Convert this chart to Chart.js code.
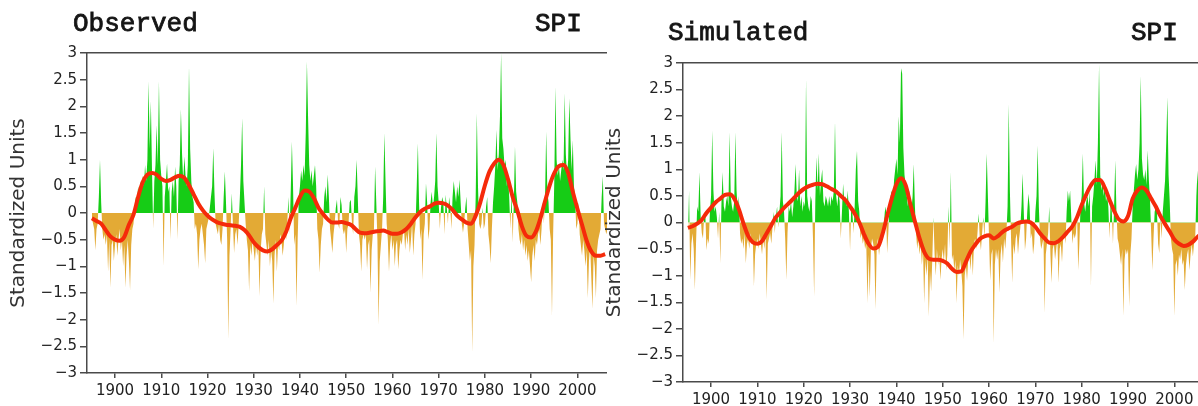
<!DOCTYPE html>
<html>
<head>
<meta charset="utf-8">
<script src="https://cdn.jsdelivr.net/npm/chart.js@4.4.1/dist/chart.umd.min.js"></script>
<style>
    html, body { margin: 0; padding: 0; background: #fff; overflow: hidden; }
    body { width: 1198px; height: 406px; position: relative; }
    .panel { position: absolute; top: 0; }
    .title { position: absolute; font-family: "Liberation Mono", monospace; font-weight: normal;
             font-size: 26px; line-height: 26px; color: #151515; white-space: nowrap;
             -webkit-text-stroke: 0.8px #151515; }
</style>
</head>
<body>
<div class="panel" style="left:0px;width:607px;height:406px;"><canvas id="obsChart" width="607" height="406"></canvas></div>
<div class="panel" style="left:596px;width:608px;height:406px;"><canvas id="simChart" width="608" height="406"></canvas></div>
<div class="title" style="left:73px;top:11px;">Observed</div>
<div class="title" style="left:535px;top:11px;">SPI</div>
<div class="title" style="left:668px;top:20px;">Simulated</div>
<div class="title" style="left:1131px;top:20px;">SPI</div>

<script>
// Axis ticks shared by both panels.
const xTicks = [1900, 1910, 1920, 1930, 1940, 1950, 1960, 1970, 1980, 1990, 2000];
const yTicks = [-3, -2.5, -2, -1.5, -1, -0.5, 0, 0.5, 1, 1.5, 2, 2.5, 3];

// SPI values are read every quarter of a year, starting in 1895.
const spiStart = 1895;
const spiStep = 0.25;

// The smoothed curve is read once a year, starting in 1895.
const trendStart = 1895;

const obsSpi = [
    -0.1, -0.2, -0.3, -0.7,
    -0.3, -0.2, 0.3, 1.0,
    0.2, -0.3, -0.5, -0.4,
    -0.6, -0.4, -1.1, -0.5,
    -1.4, -0.6, -0.5, -0.9,
    -0.6, -0.4, -0.8, -0.5,
    -0.3, -0.7, -0.5, -1.0,
    -0.6, -1.4, -0.8, -0.5,
    -0.9, -1.45, -0.6, -0.3,
    -0.2, 0.1, 0.3, 0.2,
    0.5, 0.3, 0.6, 0.4,
    0.7, 0.5, 0.9, 0.6,
    1.0, 2.47, 1.2, 2.1,
    0.8, -0.3, 0.6, 0.9,
    1.65, 0.9, 2.47, 1.0,
    0.7, 0.5, -1.0, 0.3,
    0.6, 0.93, 0.4, 0.5,
    -0.5, 0.4, 0.6, 0.3,
    0.87, 0.5, -0.5, 0.6,
    0.9, 1.95, 1.1, 0.6,
    1.06, 0.7, 0.5, 0.9,
    2.75, 1.2, 0.6, 0.3,
    0.2, -0.3, -0.2, -0.4,
    -1.06, -0.5, -0.3, -0.2,
    -0.4, -0.6, -0.94, -0.3,
    -0.2, -0.1, 0.1, 0.3,
    0.5, 1.22, 0.4, -0.2,
    -0.3, -0.4, -0.2, -0.5,
    -0.6, -0.3, 0.3, 0.78,
    0.2, -0.5, -2.37, -0.8,
    -0.3, 0.37, -0.2, -0.75,
    -0.4, -0.3, -0.6, -0.2,
    0.3, 0.9, 1.78, 0.6,
    0.2, -0.2, -0.5, -0.7,
    -1.47, -0.6, -0.8, -0.5,
    -0.7, -0.9, -0.6, -0.8,
    -0.6, -1.56, -0.7, -0.4,
    -0.3, 0.5, -0.4, -0.6,
    -0.8, -0.5, -1.0, -0.7,
    -0.9, -1.7, -0.8, -0.5,
    -1.1, -0.6, -0.7, -0.4,
    -0.5, -0.8, -0.6, -0.3,
    -0.5, -0.2, 0.3, -0.4,
    0.4, 1.34, 0.5, -0.6,
    -0.4, -1.75, -0.5, 0.3,
    0.5, 0.8, 0.6, 0.9,
    0.7, 1.5, 2.84, 1.8,
    0.9, 0.6, 0.8, 0.5,
    0.7, 0.9, 0.5, -0.3,
    -0.5, -1.12, -0.6, -0.3,
    -0.2, 0.3, 0.5, 0.2,
    0.72, 0.3, -0.3, -0.5,
    -0.75, -0.4, -0.2, 0.1,
    0.25, -0.2, -0.3, 0.3,
    0.15, -0.3, -0.4, -0.3,
    -0.75, -0.3, -0.2, 0.2,
    0.25, -0.2, -0.4, 0.3,
    0.5, 1.0, 0.3, -0.4,
    -0.6, -1.1, -0.5, -0.4,
    -0.5, -0.4, -1.05, -0.6,
    -0.5, -1.5, -0.7, -0.4,
    -0.3, 0.87, 0.2, -0.5,
    -2.1, -0.9, -0.6, -0.3,
    0.3, 1.5, 0.6, -0.2,
    -0.5, -1.1, -0.6, -0.4,
    -0.7, -0.5, -1.0, -0.6,
    -0.5, -1.06, -0.7, -0.5,
    -0.6, -0.4, -0.3, -0.7,
    -0.4, -0.6, -0.3, -0.75,
    -0.5, -0.2, -0.8, -0.4,
    -0.2, 0.5, 1.31, 0.2,
    -0.5, -0.3, -1.25, -0.4,
    -0.2, 0.56, 0.2, -0.5,
    -0.3, 0.2, 0.4, 0.1,
    0.3, 0.6, 1.5, 0.5,
    0.2, -0.3, 0.1, 0.3,
    0.2, -0.4, 0.34, 0.1,
    -0.2, 0.3, 0.1, -0.3,
    0.3, 0.6, 0.4, 0.2,
    0.5, 0.3, 0.63, 0.2,
    -0.2, -0.37, -0.2, 0.1,
    0.31, -0.3, -0.6, -0.9,
    -0.7, -2.62, -1.0, -0.6,
    0.3, 1.87, 0.5, -0.2,
    -0.3, -0.2, 0.1, -0.3,
    -0.2, 0.12, 0.3, -0.4,
    -0.6, -0.94, -0.3, 0.2,
    0.5, 0.9, 1.56, 0.8,
    1.1, 1.8, 3.0, 1.4,
    1.2, 0.87, 1.0, 0.5,
    0.7, 0.3, -0.3, 0.4,
    -0.56, 0.2, 1.25, 0.4,
    0.2, -0.3, -0.5, -0.6,
    -0.4, -0.7, -0.5, -0.8,
    -0.6, -0.9, -0.7, -1.0,
    -1.3, -0.8, -0.6, -0.9,
    -0.5, -0.6, -0.4, -0.3,
    -0.6, -0.3, 0.2, -0.2,
    0.3, 1.53, 0.4, 0.2,
    -0.3, -0.5, -1.94, -0.4,
    0.6, 2.37, 1.0, 0.7,
    0.9, 0.6, 0.8, 1.0,
    0.8, 2.25, 1.1, 0.7,
    1.0, 2.15, 1.4, 0.8,
    1.37, 0.5, 0.3, -0.3,
    -0.2, 0.2, -0.4, -0.6,
    -0.8, -0.5, -0.7, -1.0,
    -0.7, -1.6, -0.9, -0.6,
    -1.2, -1.8, -0.8, -1.0,
    -1.6, -0.7, -0.5, -0.4,
    -0.3, 0.3, 0.69, -0.2,
    -0.3, -0.4, -0.3, -0.4
];

const obsTrend = [
    -0.1, -0.15, -0.2, -0.32, -0.44, -0.5, -0.52, -0.45, -0.22, -0.03,
    0.3, 0.58, 0.72, 0.75, 0.72, 0.64, 0.6, 0.62, 0.67, 0.7,
    0.66, 0.52, 0.35, 0.18, 0.05, -0.05, -0.12, -0.17, -0.2, -0.22,
    -0.23, -0.24, -0.26, -0.32, -0.42, -0.55, -0.64, -0.7, -0.72, -0.68,
    -0.6, -0.52, -0.35, -0.1, 0.1, 0.3, 0.42, 0.4, 0.28, 0.1,
    -0.02, -0.12, -0.18, -0.18, -0.17, -0.19, -0.22, -0.3, -0.37, -0.38,
    -0.37, -0.35, -0.34, -0.33, -0.36, -0.39, -0.39, -0.36, -0.3, -0.2,
    -0.08, 0.02, 0.08, 0.12, 0.17, 0.19, 0.18, 0.14, 0.06, -0.05,
    -0.12, -0.18, -0.2, -0.05, 0.2, 0.52, 0.78, 0.93, 1.0, 0.9,
    0.63, 0.3, 0.05, -0.25, -0.43, -0.46, -0.35, -0.1, 0.22, 0.52,
    0.75, 0.88, 0.9, 0.75, 0.4, 0.08, -0.22, -0.52, -0.72, -0.8,
    -0.8, -0.77
];

const simSpi = [
    -0.3, 0.6, -1.08, -0.4,
    -0.2, -0.5, -1.27, -0.4,
    0.3, 0.2, 0.95, 0.1,
    -0.2, -0.3, 0.1, 0.2,
    -0.52, -0.3, -0.4, 0.2,
    0.5, 1.73, 0.6, 0.2,
    0.3, 0.1, -0.3, 0.2,
    -0.77, 0.4, 0.95, 0.3,
    0.2, 0.4, 0.5, 0.3,
    1.7, 0.5, 0.3, 0.2,
    0.4, 1.7, 0.6, 0.2,
    0.5, -0.2, -0.4, -0.3,
    -0.5, -0.2, -0.77, -0.4,
    -0.3, -0.5, -0.2, -0.4,
    -0.3, -1.2, -0.6, -0.4,
    -0.3, -0.5, -0.2, -0.4,
    -0.6, -0.3, -0.5, -0.2,
    -1.46, -0.4, -0.3, -0.2,
    -0.4, -0.1, 0.2, -0.2,
    0.1, 0.3, -0.1, 0.2,
    0.5, 1.7, 0.4, 0.2,
    -0.3, -1.08, -0.2, 0.3,
    0.2, 0.4, 0.1, 0.3,
    0.6, 1.1, 0.5, 0.4,
    1.0, 0.3, 0.5, 0.2,
    0.4, 0.3, 2.7, 0.5,
    0.3, 0.2, 0.5, 0.4,
    -0.3, -1.39, 0.4, 1.23,
    0.6, 1.3, 0.5, 0.8,
    1.0, 0.4, 0.3, 0.5,
    0.42, 0.3, 0.5, 0.3,
    0.5, 0.4, 0.6, 1.9,
    0.5, 0.3, 0.55, 0.4,
    -0.3, 0.2, 0.73, 0.4,
    0.5, 0.3, 0.6, 0.2,
    -0.52, 0.3, 0.2, -0.2,
    0.3, 1.0, 1.35, 0.4,
    0.2, -0.3, -0.2, -0.4,
    -0.3, -0.5, -0.4, -1.52,
    -0.6, -1.4, -0.5, -0.3,
    -0.4, -0.6, -1.64, -0.5,
    -0.3, -0.62, -0.4, -0.2,
    -0.3, -0.1, 0.2, 0.3,
    -0.58, -0.2, 0.3, 0.5,
    0.6, 0.4, 0.8, 1.0,
    1.2, 0.9, 2.0, 1.5,
    2.9, 2.8, 1.4, 0.9,
    0.7, 0.5, 0.3, 0.6,
    0.4, 0.2, 0.5, 1.1,
    0.3, -0.2, -0.5, -0.3,
    -0.6, -0.4, -0.8, -0.5,
    -1.52, -0.7, -1.0, -0.6,
    -1.77, -0.9, -1.3, -0.7,
    0.1, -0.6, -1.0, -0.5,
    -0.8, -0.6, -1.08, -0.7,
    -0.5, -0.75, -0.4, -0.9,
    -0.6, 0.3, -0.5, 0.95,
    -0.7, -0.6, -0.9, -0.7,
    -1.52, -0.8, -1.0, -0.7,
    -0.9, -1.2, -2.2, -1.0,
    -0.8, -1.1, -0.7, -0.6,
    -0.9, -0.5, -1.0, -0.4,
    -0.3, -0.5, -0.2, 0.17,
    -0.3, -0.52, -0.2, 0.1,
    -0.3, 0.4, 1.3, 0.5,
    -0.3, -1.1, -0.6, -0.5,
    -2.27, -0.8, -0.5, -0.7,
    -0.5, -1.33, -0.6, -0.4,
    -0.75, -0.3, -0.5, -0.2,
    0.3, 2.23, 0.6, -0.3,
    -1.14, -0.4, -0.6, -0.3,
    -0.2, -0.6, -0.3, -0.1,
    0.3, 0.92, 0.2, -0.52,
    -0.3, 0.2, 0.54, 0.3,
    -0.3, -0.2, -0.6, -0.4,
    0.2, 0.5, 1.45, 0.3,
    -0.3, -0.5, -0.4, -0.3,
    -1.7, -0.6, -0.4, -0.2,
    0.3, -0.6, -1.14, -0.5,
    -0.4, -0.7, -0.5, -0.3,
    -1.14, -0.5, -0.4, -0.75,
    -0.3, -0.2, -0.4, 0.2,
    0.6, 0.4, 0.6, 0.1,
    -0.4, -0.2, -0.3, -0.2,
    0.2, -0.9, -0.4, 0.3,
    0.5, 1.3, 0.4, 0.2,
    0.4, 0.5, 0.3, 0.6,
    -1.2, 0.3, 0.5, 0.8,
    1.17, 0.7, 1.5, 2.98,
    0.9, 0.6, 0.8, 0.5,
    0.7, 0.4, 0.5, 0.3,
    -0.3, 0.4, 0.2, -0.4,
    0.3, 1.17, 0.2, -0.3,
    -0.4, -0.6, -0.8, -0.5,
    -1.77, -0.7, -0.5, -0.6,
    -0.5, -1.58, -0.6, -0.3,
    0.3, 0.6, 0.9, 1.1,
    0.8, 1.0, 1.5, 2.76,
    1.2, 0.9, 0.8, 1.0,
    0.7, 1.36, 0.8, 0.4,
    -0.2, -0.9, -0.3, 0.2,
    0.3, 0.2, -0.4, -0.58,
    0.1, -0.3, 0.2, 0.5,
    0.8, 1.5, 2.36, 0.9,
    0.4, -0.3, -0.5, -0.6,
    -1.77, -0.8, -0.7, -1.0,
    -0.6, -0.7, -0.5, -0.8,
    -0.7, -1.27, -0.8, -0.6,
    -0.5, -0.9, -0.6, -0.4,
    -0.64, -0.4, -0.3, 0.5,
    0.98, 0.4, -0.2, -0.3,
    -0.2, -0.3, -0.2, -0.2
];

const simTrend = [
    -0.1, -0.07, -0.02, 0.05, 0.18, 0.28, 0.38, 0.45, 0.52, 0.53,
    0.45, 0.25, -0.02, -0.25, -0.37, -0.4, -0.35, -0.2, -0.05, 0.1,
    0.2, 0.3, 0.38, 0.47, 0.56, 0.63, 0.68, 0.71, 0.73, 0.72,
    0.68, 0.63, 0.58, 0.5, 0.42, 0.3, 0.17, 0.0, -0.22, -0.4,
    -0.49, -0.46, -0.22, 0.12, 0.45, 0.72, 0.83, 0.7, 0.35, 0.02,
    -0.3, -0.55, -0.68, -0.7, -0.7, -0.72, -0.77, -0.87, -0.93, -0.92,
    -0.74, -0.55, -0.42, -0.31, -0.26, -0.24, -0.3, -0.25, -0.17, -0.12,
    -0.08, -0.02, 0.01, 0.02, 0.0, -0.08, -0.2, -0.3, -0.38, -0.39,
    -0.35, -0.27, -0.17, -0.07, 0.1, 0.33, 0.53, 0.7, 0.8, 0.8,
    0.65, 0.43, 0.22, 0.06, 0.02, 0.12, 0.45, 0.6, 0.66, 0.6,
    0.45, 0.3, 0.12, -0.03, -0.17, -0.32, -0.4, -0.44, -0.42, -0.36,
    -0.27, -0.2
];

const xMin = 1893.94;
const xMax = 2006.4;

// Turn a list of values into {x, y} points along the year axis.
function toPoints(values, start, step) {
    return values.map(function (v, i) {
        return { x: start + i * step, y: v };
    });
}

function formatTick(v) {
    return v < 0 ? '\u2212' + Math.abs(v) : String(v);
}

// Build one SPI panel: green/orange area around zero and the red smoothed curve.
function drawPanel(canvasId, spi, trend, topPad, bottomAxis) {
    const axisColor = '#4a4a4a';
    const tickFont = { family: 'DejaVu Sans', size: 15 };

    return new Chart(document.getElementById(canvasId), {
        type: 'line',
        data: {
            datasets: [
                {
                    label: 'Smoothed',
                    data: toPoints(trend, trendStart, 1),
                    borderColor: '#f52a0a',
                    borderWidth: 4,
                    cubicInterpolationMode: 'monotone',
                    pointRadius: 0,
                    fill: false
                },
                {
                    label: 'SPI',
                    data: toPoints(spi, spiStart, spiStep),
                    borderColor: 'rgba(0,0,0,0)',
                    borderWidth: 0,
                    tension: 0,
                    pointRadius: 0,
                    fill: { target: 'origin', above: '#16cc16', below: '#e3aa35' }
                }
            ]
        },
        options: {
            responsive: false,
            animation: false,
            devicePixelRatio: 1,
            layout: { padding: { left: 3, top: topPad, right: 0, bottom: 0 } },
            plugins: {
                legend: { display: false },
                tooltip: { enabled: false }
            },
            scales: {
                x: {
                    type: 'linear',
                    position: 'bottom',
                    min: xMin,
                    max: xMax,
                    afterBuildTicks: function (s) { s.ticks = xTicks.map(v => ({ value: v })); },
                    afterFit: function (s) { s.height = bottomAxis; },
                    ticks: {
                        autoSkip: false,
                        maxRotation: 0,
                        padding: 4,
                        color: '#222',
                        font: tickFont,
                        callback: v => String(v)
                    },
                    grid: { drawOnChartArea: false, tickLength: 5, color: axisColor, lineWidth: 1.5 },
                    border: { color: axisColor, width: 1.5 }
                },
                xTop: {
                    type: 'linear',
                    position: 'top',
                    min: xMin,
                    max: xMax,
                    afterFit: function (s) { s.height = 0; },
                    ticks: { display: false },
                    grid: { display: false },
                    border: { display: true, color: axisColor, width: 1.5 }
                },
                y: {
                    min: -3,
                    max: 3,
                    afterBuildTicks: function (s) { s.ticks = yTicks.map(v => ({ value: v })); },
                    afterFit: function (s) { s.width = 84; },
                    ticks: {
                        padding: 3,
                        color: '#222',
                        font: tickFont,
                        callback: formatTick
                    },
                    title: {
                        display: true,
                        text: 'Standardized Units',
                        color: '#333',
                        font: { family: 'DejaVu Sans', size: 20 },
                        padding: { top: 4, bottom: 4 }
                    },
                    grid: { drawOnChartArea: false, tickLength: 7, color: axisColor, lineWidth: 1.5 },
                    border: { color: axisColor, width: 1.5 }
                }
            }
        }
    });
}

drawPanel('obsChart', obsSpi, obsTrend, 53, 33);
drawPanel('simChart', simSpi, simTrend, 63, 24);
</script>
</body>
</html>
